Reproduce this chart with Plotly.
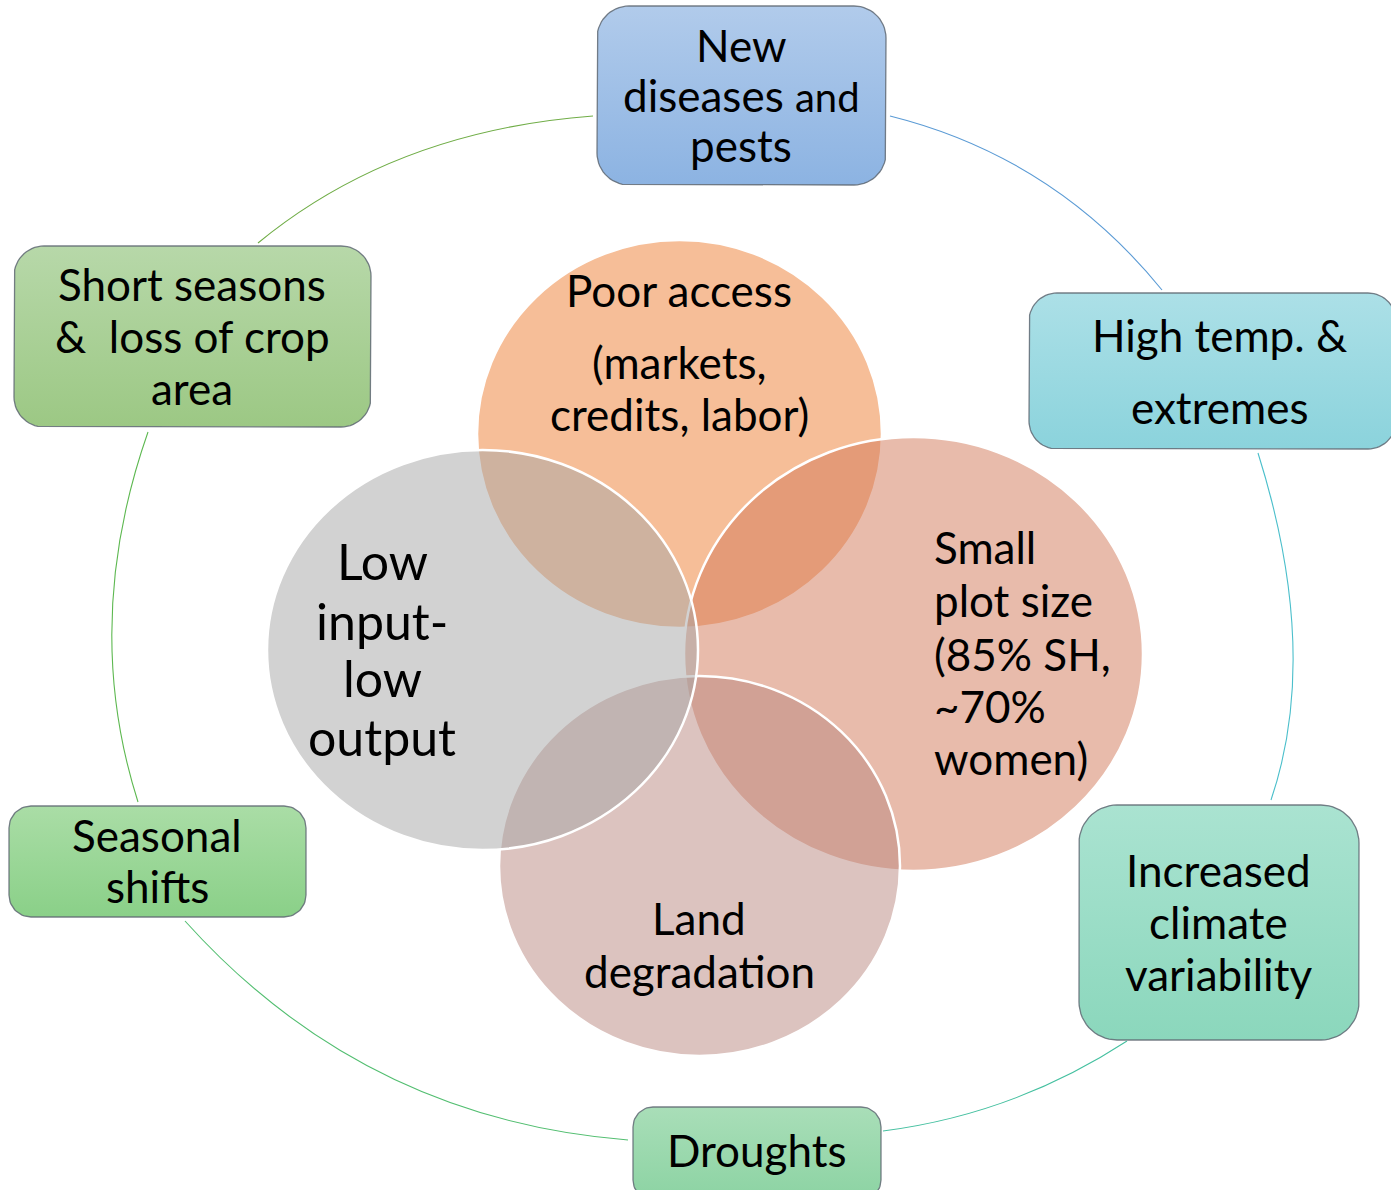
import numpy as np
import plotly.graph_objects as go

W, H = 1391, 1190
FONT = "Lato"

# ---------------- data: texts ----------------
box_lines = [
    ["New", "diseases <span style='font-size:40px'>and</span>", "pests"],
    ["High temp. &", "extremes"],
    ["Short seasons", "&\u00a0 loss of crop", "area"],
    ["Seasonal", "shifts"],
    ["Increased", "climate", "variability"],
    ["Droughts"],
]
venn_lines = [
    ["Poor access", "(markets,", "credits, labor)"],
    ["Small", "plot size", "(85% SH,", "~70%", "women)"],
    ["Land", "degradation"],
    ["Low", "input-", "low", "output"],
]

# ---------------- layout: geometry and styles ----------------
box_rect = [  # x0, y0, x1, y1, corner radius
    (597, 6, 886, 185, 32),
    (1029, 293, 1396, 449, 28),
    (14, 246, 371, 427, 30),
    (9, 806, 306, 917, 22),
    (1079, 805, 1359, 1040, 38),
    (633, 1107, 881, 1200, 20),
]
box_grad = [
    ("#B1CBEB", "#8CB3E2"),
    ("#ACE0E7", "#8BD3DC"),
    ("#B7D8A9", "#9CC884"),
    ("#AADDA6", "#8AD088"),
    ("#AAE3D1", "#8BD7BC"),
    ("#A9DEB8", "#8CD3A3"),
]
box_text_x = [741, 1219, 192, 157, 1218, 757]
box_text_y = [[45, 95, 145], [335, 407], [284, 336, 388], [835, 886],
              [870, 922, 974], [1150]]
box_font = 44

venn_ell = [  # cx, cy, rx, ry
    (679.5, 434, 202.5, 194),
    (913.5, 654, 229.5, 217),
    (699.5, 866, 200.5, 190),
    (482.5, 650, 215.5, 200),
]
venn_fill = [
    "rgba(237,125,49,0.5)",
    "rgba(209,119,87,0.5)",
    "rgba(185,135,127,0.5)",
    "rgba(165,165,165,0.5)",
]
venn_text_x = [679, 932, 699, 382]
venn_text_anchor = ["center", "left", "center", "center"]
venn_text_y = [[290, 362, 414], [547, 600, 654, 706, 758], [918, 971],
               [561, 621, 678, 737]]
venn_font = [44, 44, 44, 50]

arcs = [  # start, control, end, colour
    ((593, 116), (394, 131), (258, 243), "#70AD47"),
    ((890, 116), (1054, 157), (1162, 290), "#5B9BD5"),
    ((1258, 453), (1321, 653), (1271, 800), "#4BBFCB"),
    ((1127, 1041), (1015, 1114), (883, 1131), "#45C0A0"),
    ((628, 1140), (363, 1119), (185, 921), "#52BE70"),
    ((138, 802), (81, 623), (148, 432), "#5DB850"),
]


def rounded_rect(x0, y0, x1, y1, r, n=16):
    xs, ys = [], []
    corners = [(x1 - r, y0 + r, -90, 0), (x1 - r, y1 - r, 0, 90),
               (x0 + r, y1 - r, 90, 180), (x0 + r, y0 + r, 180, 270)]
    for cx, cy, a0, a1 in corners:
        t = np.radians(np.linspace(a0, a1, n))
        xs.extend(cx + r * np.cos(t))
        ys.extend(cy + r * np.sin(t))
    xs.append(xs[0]); ys.append(ys[0])
    return xs, ys


fig = go.Figure()

for (x0, y0, x1, y1, r), (ct, cb) in zip(box_rect, box_grad):
    xs, ys = rounded_rect(x0, y0, x1, y1, r)
    fig.add_trace(go.Scatter(
        x=xs, y=ys, mode="lines", fill="toself",
        fillgradient=dict(type="vertical", colorscale=[[0, ct], [1, cb]],
                          start=y0, stop=y1),
        line=dict(color="rgba(95,105,115,0.85)", width=1.3),
        hoverinfo="skip", showlegend=False))

shapes = []
for (p0, c, p1, col) in arcs:
    shapes.append(dict(type="path", xref="x", yref="y",
                       path=f"M {p0[0]} {p0[1]} Q {c[0]} {c[1]} {p1[0]} {p1[1]}",
                       line=dict(color=col, width=1.1)))
for (cx, cy, rx, ry), fc in zip(venn_ell, venn_fill):
    shapes.append(dict(type="circle", xref="x", yref="y",
                       x0=cx - rx, x1=cx + rx, y0=cy - ry, y1=cy + ry,
                       fillcolor=fc, line=dict(color="white", width=2.5)))

ann = []
for lines, x, ys in zip(box_lines, box_text_x, box_text_y):
    for t, y in zip(lines, ys):
        ann.append(dict(x=x, y=y, text=t, showarrow=False, xanchor="center",
                        yanchor="middle",
                        font=dict(family=FONT, size=box_font, color="black")))
for lines, x, anc, ys, fs in zip(venn_lines, venn_text_x, venn_text_anchor,
                                 venn_text_y, venn_font):
    for t, y in zip(lines, ys):
        ann.append(dict(x=x, y=y, text=t, showarrow=False, xanchor=anc,
                        yanchor="middle",
                        font=dict(family=FONT, size=fs, color="black")))

fig.update_layout(
    width=W, height=H, margin=dict(l=0, r=0, t=0, b=0),
    paper_bgcolor="white", plot_bgcolor="white",
    xaxis=dict(range=[0, W], visible=False, fixedrange=True),
    yaxis=dict(range=[H, 0], visible=False, fixedrange=True),
    shapes=shapes, annotations=ann, showlegend=False,
)
fig.write_html("out.html",
               config={"displayModeBar": False, "staticPlot": True},
               post_script="document.body.style.margin='0px';"
                           "document.body.style.overflow='hidden';")
